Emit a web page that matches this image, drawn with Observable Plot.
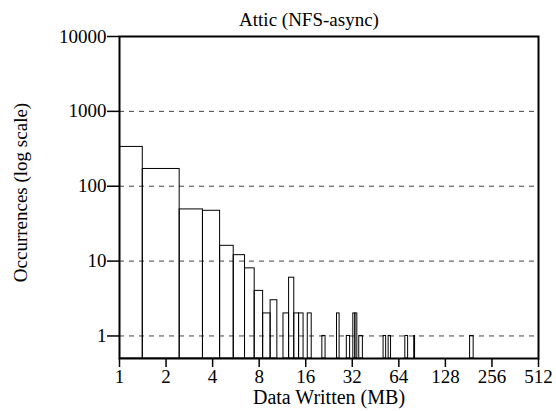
<!DOCTYPE html>
<html>
<head>
<meta charset="utf-8">
<script src="https://cdn.jsdelivr.net/npm/d3@7"></script>
<script src="https://cdn.jsdelivr.net/npm/@observablehq/plot@0.6"></script>
<style>
  html, body { margin: 0; padding: 0; background: #fff; }
</style>
</head>
<body>
<div id="chart"></div>
<script>
// Data written per event (MB) and how many times it occurred (0 = no box drawn)
const sizesMB = [1,2,3,4,5,6,7,8,9,10,11,12,13,14,15,16,17,18,19,20,21,22,
                 25,26,27,29,30,32,33,34,35,36,39,50,52,54,56,58,69,72,75,80,81,82,180,190,200];
const occurrences = [335,170,49,47,16,12,8,4,2,3,0,2,6,2,2,0,2,0,0,0,1,0,
                     0,2,0,0,1,0,2,2,0,1,0,0,1,0,1,0,0,1,0,0,1,0,0,1,0];
const xTicks = [1,2,4,8,16,32,64,128,256,512];
const yTicks = [1,10,100,1000,10000];
const gridY = [1,10,100,1000];
const title = "Attic (NFS-async)";
const xLabel = "Data Written (MB)";
const yLabel = "Occurrences (log scale)";

// gnuplot "boxes" style: each box reaches halfway (in log space) to its neighbours
const boxes = sizesMB.map((s, i) => {
  const hi = i < sizesMB.length - 1 ? Math.sqrt(s * sizesMB[i + 1]) : s * s / Math.sqrt(s * sizesMB[i - 1]);
  const lo = i > 0 ? Math.sqrt(s * sizesMB[i - 1]) : s * s / hi;
  return {size: s, lo, hi, count: occurrences[i]};
}).filter(d => d.count > 0);

const yMin = 0.5;

const chart = Plot.plot({
  width: 556,
  height: 411,
  marginLeft: 119,
  marginRight: 18,
  marginTop: 36,
  marginBottom: 53,
  style: {fontFamily: "'Liberation Serif', 'Times New Roman', serif", fontSize: "19px", background: "#fff", color: "#000"},
  x: {type: "log", base: 2, domain: [1, 512]},
  y: {type: "log", domain: [yMin, 10000]},
  marks: [
    Plot.ruleY(gridY, {stroke: "#444", strokeWidth: 1, strokeDasharray: "5,5"}),
    Plot.rect(boxes, {x1: "lo", x2: "hi", y1: () => yMin, y2: "count", fill: "none", stroke: "#000", strokeWidth: 1, clip: true}),
    Plot.axisX({ticks: xTicks, tickFormat: d => String(d), tickSize: 9, tickPadding: 2, strokeWidth: 1.5, label: null, fontSize: 19}),
    Plot.axisY({ticks: yTicks, tickFormat: d => String(d), tickSize: 12, tickPadding: 1, strokeWidth: 1.5, label: null, fontSize: 19}),
    Plot.frame({stroke: "#000", strokeWidth: 2}),
    Plot.text([title], {frameAnchor: "top", textAnchor: "middle", dx: -20, dy: -17, lineAnchor: "middle", fontSize: 19}),
    Plot.text([xLabel], {frameAnchor: "bottom", textAnchor: "middle", dy: 39, lineAnchor: "middle", fontSize: 20}),
    Plot.text([yLabel], {frameAnchor: "left", textAnchor: "middle", dx: -99, dy: -5, rotate: -90, lineAnchor: "middle", fontSize: 19})
  ]
});
document.getElementById("chart").appendChild(chart);
</script>
</body>
</html>
